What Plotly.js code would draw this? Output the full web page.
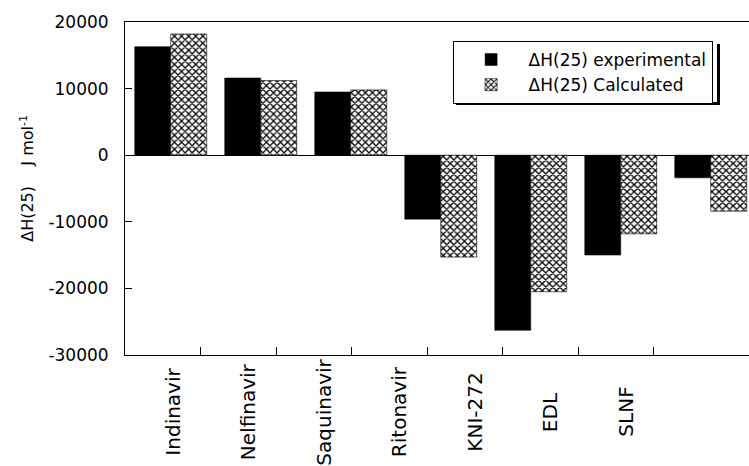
<!DOCTYPE html>
<html>
<head>
<meta charset="utf-8">
<script src="https://cdn.plot.ly/plotly-3.0.1.min.js"></script>
<style>html,body{margin:0;padding:0;background:#fff;}#chart{width:749px;height:466px;}</style>
</head>
<body>
<div id="chart"></div>
<script>
const categories = ["Indinavir", "Nelfinavir", "Saquinavir", "Ritonavir", "KNI-272", "EDL", "SLNF"];
const experimental = [16300, 11600, 9500, -9600, -26300, -15000, -3400];
const calculated = [18200, 11200, 9800, -15300, -20500, -11800, -8400];
const yTicks = [20000, 10000, 0, -10000, -20000, -30000];
const seriesNames = ["\u0394H(25) experimental", "\u0394H(25) Calculated"];

const FONT = "DejaVu Sans, Arial, sans-serif";

const traces = [
  {
    type: "bar", x: categories, y: experimental, name: seriesNames[0],
    marker: {color: "#000", line: {color: "#000", width: 0.5}},
    xaxis: "x", yaxis: "y"
  },
  {
    type: "bar", x: categories, y: calculated, name: seriesNames[1],
    marker: {color: "#fff", line: {color: "#000", width: 0.6},
      pattern: {shape: "x", fgcolor: "#000", bgcolor: "#fff", size: 5, solidity: 0.45}},
    xaxis: "x", yaxis: "y"
  },
  {
    /* invisible carrier so the offset label/tick axis of the original figure is drawn */
    type: "scatter", mode: "none", x: categories, y: experimental,
    xaxis: "x2", yaxis: "y", showlegend: false, hoverinfo: "skip"
  }
];

/* category labels, centred vertically below the axis as in the original */
const labelAnnotations = categories.map(c => ({
  text: c, x: c, xref: "x2", y: -0.171, yref: "paper",
  xanchor: "center", yanchor: "middle", textangle: -90, xshift: -28,
  showarrow: false, font: {family: FONT, size: 20, color: "#000"}
}));

const layout = {
  width: 749, height: 466,
  margin: {l: 125, r: 0, t: 22, b: 111, pad: 0},
  paper_bgcolor: "#fff", plot_bgcolor: "#fff",
  font: {family: FONT, color: "#000", size: 17},
  barmode: "group", bargap: 0.2, bargroupgap: 0,
  showlegend: true,
  legend: {
    x: 0.525, y: 0.943, xanchor: "left", yanchor: "top",
    bgcolor: "#fff", bordercolor: "#000", borderwidth: 1,
    font: {family: FONT, size: 17, color: "#000"},
    tracegroupgap: 0, itemwidth: 65
  },
  xaxis: {
    type: "category", categoryorder: "array", categoryarray: categories,
    range: [-0.508, 6.425],
    showticklabels: false, ticks: "",
    showline: true, linecolor: "#000", linewidth: 1, mirror: true,
    showgrid: false, zeroline: false
  },
  xaxis2: {
    type: "category", categoryorder: "array", categoryarray: categories,
    overlaying: "x", anchor: "y", side: "bottom",
    range: [-1.0026, 7.262],
    ticks: "inside", ticklen: 8, tickcolor: "#000", tickwidth: 1,
    showticklabels: false,
    showline: false, showgrid: false, zeroline: false
  },
  yaxis: {
    range: [-30000, 20000],
    tickmode: "array", tickvals: yTicks, ticktext: yTicks.map(String),
    ticks: "inside", ticklen: 7, tickcolor: "#000", tickwidth: 1,
    ticklabelstandoff: 12,
    tickfont: {family: FONT, size: 17, color: "#000"},
    showline: true, linecolor: "#000", linewidth: 1,
    showgrid: false,
    zeroline: true, zerolinecolor: "#000", zerolinewidth: 1,
    title: {text: "&nbsp;&nbsp;&nbsp;&nbsp;\u0394H(25)&nbsp;&nbsp;&nbsp; J mol<sup>-1</sup>", font: {family: FONT, size: 16, color: "#000"}, standoff: 10}
  },
  annotations: labelAnnotations,
  shapes: [
    {type: "rect", xref: "paper", yref: "paper", x0: 0.9487, x1: 0.9535, y0: 0.7508, y1: 0.9339,
     fillcolor: "#000", line: {width: 0}, layer: "above"},
    {type: "rect", xref: "paper", yref: "paper", x0: 0.5304, x1: 0.9535, y0: 0.7508, y1: 0.7598,
     fillcolor: "#000", line: {width: 0}, layer: "above"}
  ]
};

Plotly.newPlot("chart", traces, layout, {displayModeBar: false, staticPlot: true});
</script>
</body>
</html>
